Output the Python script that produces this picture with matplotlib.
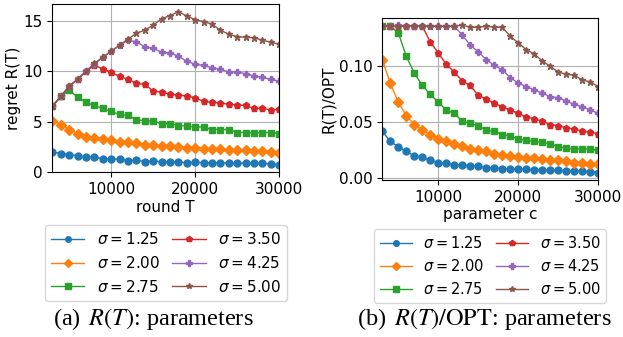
import matplotlib
matplotlib.use("Agg")
import matplotlib.pyplot as plt

# x positions (round T / parameter c)
xs = [3000, 4000, 5000, 6000, 7000, 8000, 9000, 10000, 11000, 12000,
      13000, 14000, 15000, 16000, 17000, 18000, 19000, 20000, 21000, 22000,
      23000, 24000, 25000, 26000, 27000, 28000, 29000, 30000]

sigmas = ["1.25", "2.00", "2.75", "3.50", "4.25", "5.00"]

# (a) regret R(T)
reg_125 = [2.0, 1.8, 1.7, 1.6, 1.45, 1.45, 1.3, 1.25, 1.25, 1.1, 1.15, 1.0, 1.05, 1.0,
           1.0, 0.95, 0.9, 0.95, 0.9, 0.9, 0.9, 0.85, 0.85, 0.85, 0.85, 0.85, 0.75, 0.7]
reg_200 = [5.1, 4.7, 4.2, 3.8, 3.5, 3.4, 3.3, 3.15, 3.0, 3.0, 2.9, 2.7, 2.65, 2.6,
           2.55, 2.5, 2.4, 2.4, 2.3, 2.25, 2.3, 2.2, 2.2, 2.2, 2.05, 2.05, 2.0, 1.9]
reg_275 = [6.5, 7.5, 8.1, 7.45, 6.9, 6.6, 6.3, 6.0, 5.7, 5.6, 5.2, 5.05, 5.1, 4.75,
           4.8, 4.6, 4.55, 4.45, 4.45, 4.2, 4.2, 4.2, 3.9, 3.9, 3.85, 3.9, 3.9, 3.8]
reg_350 = [6.5, 7.5, 8.5, 9.2, 10.0, 10.6, 10.25, 9.9, 9.5, 9.2, 8.8, 8.7, 8.05, 7.9,
           7.75, 7.6, 7.55, 7.35, 7.0, 6.9, 6.85, 6.7, 6.65, 6.6, 6.3, 6.3, 6.15, 6.2]
reg_425 = [6.5, 7.5, 8.5, 9.2, 10.0, 10.7, 11.4, 12.0, 12.6, 13.1, 12.95, 12.45, 12.3, 11.9,
           11.85, 11.5, 11.0, 10.7, 10.6, 10.35, 10.2, 9.95, 9.95, 9.75, 9.55, 9.4, 9.2, 9.0]
reg_500 = [6.5, 7.5, 8.5, 9.2, 10.0, 10.8, 11.4, 12.0, 12.6, 13.2, 13.8, 14.1, 14.6, 15.25,
           15.55, 15.95, 15.5, 15.15, 14.95, 14.7, 14.1, 13.7, 13.45, 13.4, 13.35, 13.1, 12.9, 12.7]

# (b) R(T)/OPT
rat_125 = [0.042, 0.033, 0.028, 0.024, 0.020, 0.019, 0.016, 0.014, 0.0135, 0.012, 0.012, 0.011,
           0.011, 0.0095, 0.0095, 0.0085, 0.0085, 0.008, 0.008, 0.0075, 0.0075, 0.007, 0.007,
           0.0065, 0.0065, 0.0062, 0.006, 0.005]
rat_200 = [0.106, 0.085, 0.068, 0.056, 0.048, 0.043, 0.039, 0.035, 0.033, 0.031, 0.029, 0.026,
           0.025, 0.024, 0.022, 0.021, 0.020, 0.019, 0.018, 0.018, 0.017, 0.016, 0.016, 0.015,
           0.014, 0.014, 0.013, 0.013]
rat_275 = [0.136, 0.136, 0.130, 0.109, 0.094, 0.083, 0.075, 0.068, 0.061, 0.058, 0.051, 0.049,
           0.047, 0.043, 0.042, 0.039, 0.038, 0.035, 0.034, 0.033, 0.032, 0.031, 0.028, 0.027,
           0.026, 0.026, 0.026, 0.025]
rat_350 = [0.136, 0.136, 0.136, 0.136, 0.136, 0.136, 0.122, 0.112, 0.102, 0.095, 0.087, 0.083,
           0.074, 0.071, 0.067, 0.064, 0.061, 0.058, 0.055, 0.053, 0.051, 0.048, 0.047, 0.045,
           0.044, 0.042, 0.041, 0.040]
rat_425 = [0.136, 0.136, 0.137, 0.136, 0.136, 0.136, 0.136, 0.136, 0.136, 0.136, 0.128, 0.119,
           0.113, 0.106, 0.101, 0.097, 0.090, 0.085, 0.082, 0.079, 0.076, 0.073, 0.072, 0.069,
           0.066, 0.064, 0.061, 0.058]
rat_500 = [0.136, 0.136, 0.136, 0.136, 0.136, 0.136, 0.136, 0.136, 0.136, 0.136, 0.137, 0.135,
           0.135, 0.136, 0.135, 0.135, 0.127, 0.121, 0.115, 0.111, 0.105, 0.100, 0.095, 0.093,
           0.092, 0.088, 0.086, 0.082]

regrets = [reg_125, reg_200, reg_275, reg_350, reg_425, reg_500]
ratios = [rat_125, rat_200, rat_275, rat_350, rat_425, rat_500]

markers = ['o', 'D', 's', 'p', 'P', '*']
colors = ['tab:blue', 'tab:orange', 'tab:green', 'tab:red', 'tab:purple', 'tab:brown']

W, H = 623, 337
fig = plt.figure(figsize=(W / 100, H / 100), dpi=100)

def box(l, t, r, b):
    return [l / W, 1 - b / H, (r - l) / W, (b - t) / H]

ax1 = fig.add_axes(box(52.3, 4, 279.3, 172.3))
ax2 = fig.add_axes(box(382.3, 17.7, 598.3, 180))

for ax, data in [(ax1, regrets), (ax2, ratios)]:
    for i in range(6):
        ax.plot(xs, data[i], marker=markers[i], color=colors[i], lw=1, ms=5,
                label=r'$\sigma = %s$' % sigmas[i])
    ax.set_xlim(3000, 30000)
    ax.set_xticks([10000, 20000, 30000])
    ax.grid(True, color='#b0b0b0', lw=0.8)
    ax.tick_params(labelsize=11)

ax1.set_yticks([0, 5, 10, 15])
ax2.set_yticks([0.0, 0.05, 0.10])
ax1.set_xlabel('round T', fontsize=11, labelpad=2)
ax1.set_ylabel('regret R(T)', fontsize=11, labelpad=2)
ax2.set_xlabel('parameter c', fontsize=11, labelpad=2)
ax2.set_ylabel('R(T)/OPT', fontsize=11, labelpad=2)

ax1.legend(loc='upper center', bbox_to_anchor=(166 / W, 1 - 217.7 / H),
           bbox_transform=fig.transFigure, ncol=2, fontsize=11, columnspacing=0.8,
           handlelength=2.2, markerscale=0.8)
ax2.legend(loc='upper center', bbox_to_anchor=(490 / W, 1 - 221.7 / H),
           bbox_transform=fig.transFigure, ncol=2, fontsize=10.5, columnspacing=0.8,
           handlelength=2.2, markerscale=0.8)

fig.text(153.8 / W, 1 - 319.3 / H, r'(a) $\,R(T)$: parameters', ha='center', va='center',
         fontsize=17.5, family='Liberation Serif', math_fontfamily='stix')
fig.text(484 / W, 1 - 319.3 / H, r'(b) $\,R(T)/\mathrm{OPT}$: parameters', ha='center',
         va='center', fontsize=17.5, family='Liberation Serif', math_fontfamily='stix')

fig.savefig('out.png', dpi=100)
